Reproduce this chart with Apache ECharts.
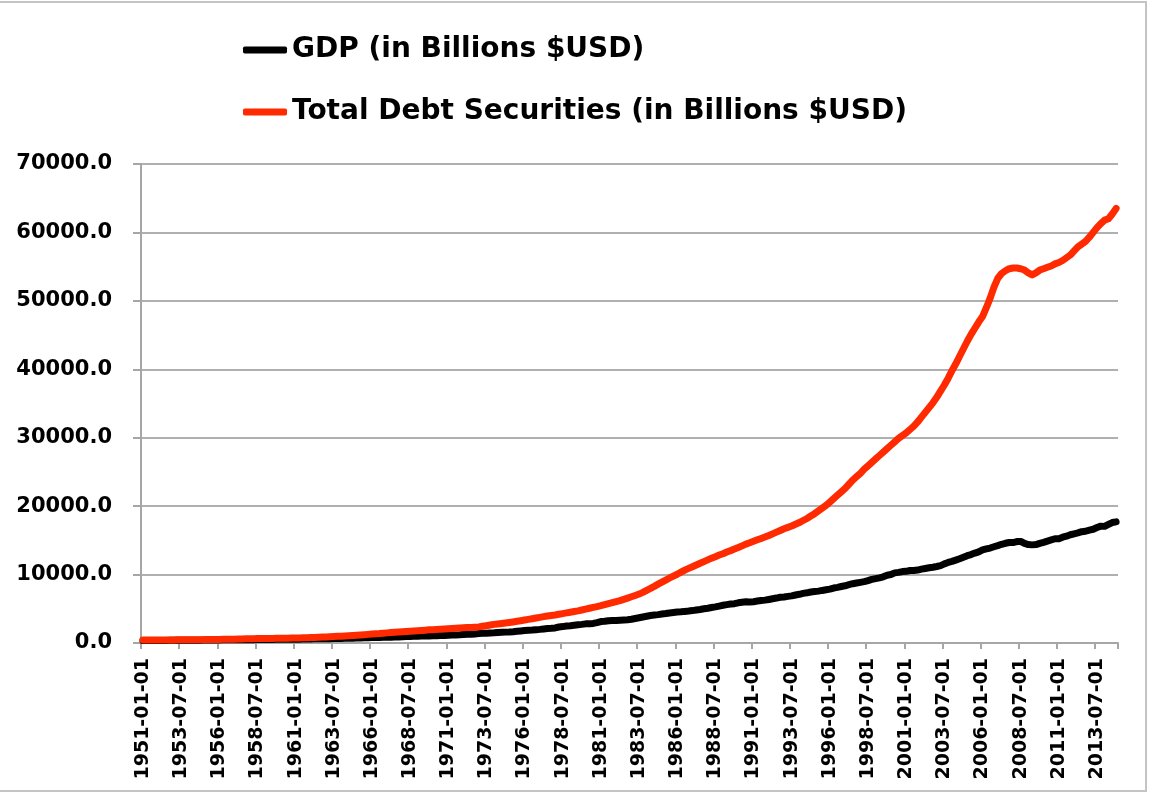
<!DOCTYPE html>
<html><head><meta charset="utf-8">
<script src="https://cdn.jsdelivr.net/npm/echarts@6/dist/echarts.min.js"></script>
<style>html,body{margin:0;padding:0;background:#fff}#c{width:1152px;height:795px}</style>
</head><body><div id="c"></div>
<script>
// Quarterly categories 1951-01-01 ... 2014-10-01
const firstYear = 1951, lastYear = 2014;
const quarterMonths = ['01', '04', '07', '10'];
const categories = [];
for (let y = firstYear; y <= lastYear; y++) for (const m of quarterMonths) categories.push(y + '-' + m + '-01');

const seriesNames = ['GDP (in Billions $USD)', 'Total Debt Securities (in Billions $USD)'];

// GDP, billions USD (one row per year, Q1..Q4)
const gdp = [
  348, 355, 361, 365,
  370, 373, 381, 396,
  396, 402, 404, 400,
  397, 398, 401, 408,
  421, 432, 442, 452,
  455, 460, 463, 471,
  481, 485, 490, 484,
  477, 481, 494, 507,
  516, 530, 529, 533,
  545, 545, 547, 541,
  545, 556, 568, 584,
  596, 603, 609, 612,
  622, 631, 645, 655,
  671, 680, 692, 698,
  719, 732, 751, 774,
  797, 806, 820, 833,
  843, 850, 866, 880,
  907, 933, 951, 969,
  995, 1011, 1032, 1040,
  1053, 1068, 1086, 1088,
  1135, 1156, 1177, 1190,
  1231, 1266, 1291, 1328,
  1377, 1413, 1433, 1477,
  1492, 1523, 1557, 1589,
  1610, 1654, 1712, 1763,
  1821, 1853, 1887, 1934,
  1990, 2060, 2123, 2157,
  2208, 2336, 2398, 2480,
  2526, 2591, 2667, 2723,
  2796, 2799, 2861, 2975,
  3131, 3168, 3261, 3284,
  3274, 3331, 3367, 3407,
  3480, 3584, 3693, 3797,
  3909, 4010, 4084, 4148,
  4237, 4302, 4394, 4453,
  4516, 4555, 4619, 4669,
  4737, 4822, 4901, 5004,
  5083, 5192, 5282, 5399,
  5511, 5612, 5695, 5747,
  5873, 5960, 6016, 6004,
  6035, 6127, 6205, 6264,
  6363, 6471, 6566, 6681,
  6729, 6809, 6883, 7013,
  7115, 7247, 7331, 7456,
  7523, 7581, 7684, 7772,
  7868, 8032, 8131, 8259,
  8362, 8519, 8662, 8766,
  8867, 8969, 9122, 9294,
  9412, 9526, 9667, 9900,
  10002, 10248, 10319, 10440,
  10471, 10597, 10597, 10661,
  10789, 10893, 10992, 11071,
  11184, 11312, 11567, 11770,
  11924, 12112, 12305, 12527,
  12761, 12922, 13143, 13325,
  13600, 13750, 13875, 14063,
  14233, 14423, 14571, 14685,
  14669, 14818, 14844, 14549,
  14383, 14340, 14384, 14565,
  14716, 14896, 15058, 15231,
  15239, 15461, 15611, 15819,
  15956, 16094, 16268, 16332,
  16502, 16619, 16872, 17079,
  17044, 17328, 17600, 17703
];

// Total debt securities, billions USD (one row per year, Q1..Q4)
const debt = [
  430, 433, 436, 439,
  442, 445, 448, 452,
  455, 460, 463, 467,
  470, 475, 480, 485,
  490, 497, 505, 512,
  520, 530, 540, 550,
  560, 575, 590, 605,
  620, 630, 640, 650,
  660, 670, 675, 685,
  690, 700, 710, 720,
  730, 745, 760, 780,
  800, 820, 840, 860,
  880, 910, 940, 970,
  1000, 1030, 1060, 1100,
  1140, 1180, 1220, 1260,
  1300, 1340, 1380, 1440,
  1480, 1520, 1560, 1600,
  1640, 1680, 1720, 1760,
  1800, 1840, 1880, 1920,
  1950, 1990, 2020, 2050,
  2080, 2120, 2150, 2190,
  2220, 2250, 2280, 2310,
  2350, 2440, 2530, 2620,
  2720, 2790, 2860, 2930,
  3000, 3080, 3170, 3260,
  3350, 3450, 3550, 3650,
  3750, 3850, 3950, 4020,
  4100, 4200, 4300, 4400,
  4500, 4600, 4700, 4820,
  4950, 5080, 5200, 5320,
  5450, 5600, 5750, 5900,
  6050, 6200, 6380, 6560,
  6750, 6950, 7150, 7400,
  7700, 7980, 8280, 8600,
  8900, 9200, 9500, 9780,
  10050, 10350, 10650, 10900,
  11150, 11400, 11650, 11900,
  12150, 12400, 12620, 12850,
  13050, 13300, 13500, 13720,
  13950, 14200, 14450, 14650,
  14870, 15080, 15280, 15480,
  15700, 15950, 16200, 16450,
  16700, 16900, 17100, 17350,
  17600, 17900, 18200, 18550,
  18900, 19300, 19700, 20100,
  20600, 21100, 21600, 22100,
  22600, 23200, 23800, 24300,
  24800, 25400, 25900, 26400,
  26900, 27400, 27900, 28400,
  28900, 29400, 29900, 30300,
  30700, 31200, 31700, 32300,
  33000, 33700, 34400, 35100,
  35900, 36800, 37700, 38700,
  39800, 40800, 41900, 43000,
  44100, 45100, 46000, 46900,
  47700, 49000, 50400, 52000,
  53300, 54000, 54400, 54700,
  54800, 54800, 54700, 54500,
  54100, 53800, 54100, 54500,
  54700, 54900, 55100, 55400,
  55600, 55900, 56300, 56700,
  57300, 57900, 58300, 58700,
  59300, 60000, 60700, 61300,
  61800, 62000, 62700, 63500
];

const yMin = 0, yMax = 70000, yStep = 10000;
const labelEvery = 10; // every 10th quarter

const chart = echarts.init(document.getElementById('c'), null, {renderer: 'canvas'});
const FONT = 'DejaVu Sans';
chart.setOption({
  backgroundColor: '#ffffff',
  animation: false,
  graphic: [{
    type: 'rect', silent: true, z: -10,
    shape: {x: -10, y: 2, width: 1156, height: 789},
    style: {fill: 'none', stroke: '#c4c4c4', lineWidth: 2}
  }],
  legend: {
    data: seriesNames,
    orient: 'vertical',
    left: 238, top: 31,
    itemWidth: 44, itemHeight: 7, itemGap: 34,
    icon: 'roundRect',
    textStyle: {fontFamily: FONT, fontWeight: 'bold', fontSize: 28, color: '#000'}
  },
  grid: {left: 141, right: 34, top: 164, bottom: 152, containLabel: false},
  xAxis: {
    type: 'category',
    data: categories,
    boundaryGap: true,
    axisLine: {lineStyle: {color: '#a6a6a6', width: 2}},
    axisTick: {show: true, interval: labelEvery - 1, length: 6, lineStyle: {color: '#a6a6a6', width: 2}},
    axisLabel: {
      interval: labelEvery - 1, rotate: 90, margin: 15,
      fontFamily: FONT, fontWeight: 'bold', fontSize: 19, color: '#000',
      padding: [12, 0, 0, 0]
    },
    splitLine: {show: false}
  },
  yAxis: {
    type: 'value', min: yMin, max: yMax, interval: yStep,
    axisLine: {show: true, lineStyle: {color: '#a6a6a6', width: 2}},
    axisTick: {show: true, length: 8, lineStyle: {color: '#a6a6a6', width: 2}},
    axisLabel: {
      margin: 29, fontFamily: FONT, fontWeight: 'bold', fontSize: 21, color: '#000',
      formatter: v => v.toFixed(1)
    },
    splitLine: {show: true, lineStyle: {color: '#b0b0b0', width: 2}}
  },
  series: [
    {name: seriesNames[0], type: 'line', data: gdp, showSymbol: false, symbol: 'none',
     lineStyle: {color: '#000000', width: 7, cap: 'round', join: 'round'}, itemStyle: {color: '#000000'}, z: 2},
    {name: seriesNames[1], type: 'line', data: debt, showSymbol: false, symbol: 'none',
     lineStyle: {color: '#ff2a00', width: 7, cap: 'round', join: 'round'}, itemStyle: {color: '#ff2a00'}, z: 3}
  ]
});
</script></body></html>
